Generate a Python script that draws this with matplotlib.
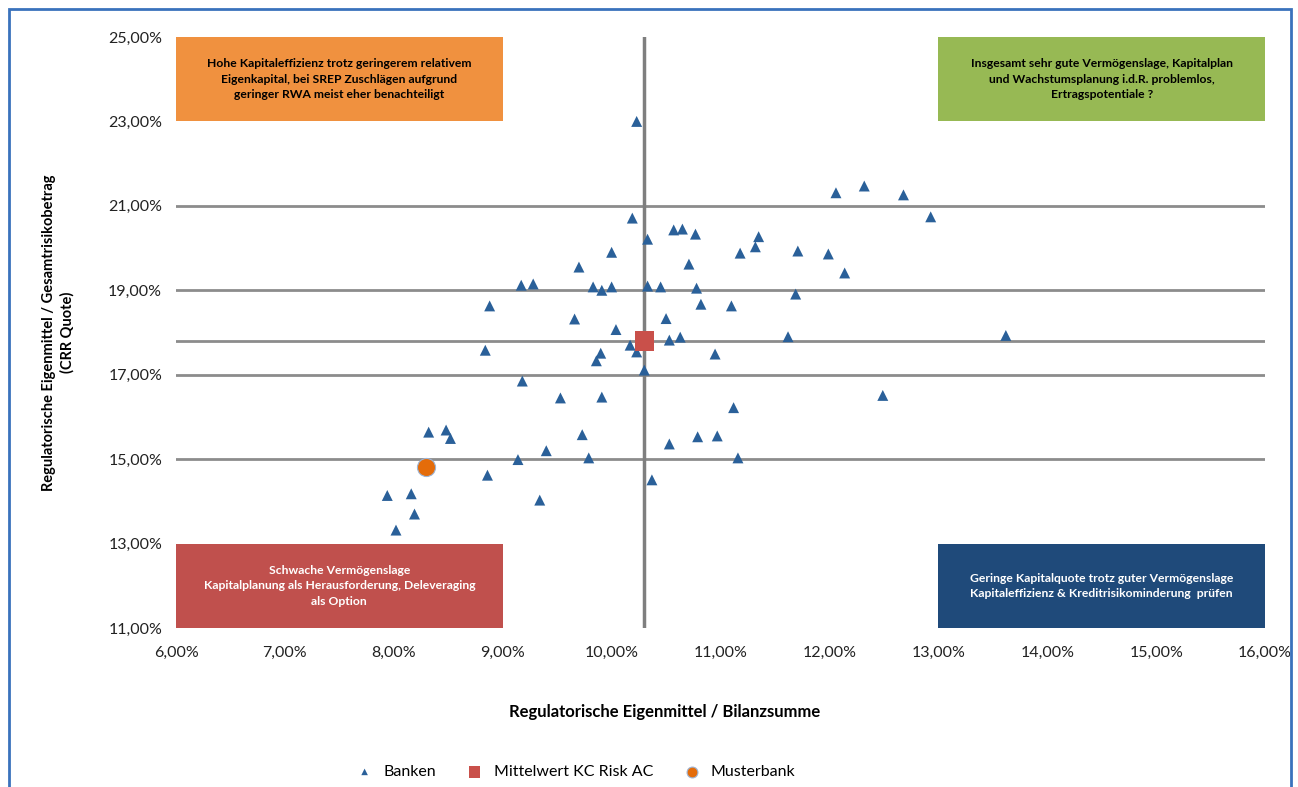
import matplotlib
matplotlib.use('Agg')
import matplotlib.pyplot as plt
from matplotlib.patches import Rectangle
from matplotlib.ticker import FuncFormatter

plt.rcParams['font.family'] = ['Lato', 'DejaVu Sans']

# Banken: Eigenmittel / Bilanzsumme (%) and CRR Quote (%)
banken_x = [10.23, 10.19, 10.33, 10.57, 10.65, 10.77, 10.00, 9.70, 9.17, 9.28,
            9.83, 9.91, 10.00, 10.33, 10.45, 10.71, 11.18, 11.32, 11.35, 11.71,
            11.99, 12.14, 12.06, 12.32, 12.68, 12.93, 10.78, 11.69, 8.88, 9.66,
            10.50, 10.04, 10.82, 11.10, 8.84, 10.17, 9.86, 9.90, 10.23, 10.53,
            10.63, 10.95, 11.62, 13.62, 10.30, 9.18, 9.53, 9.91, 11.12, 12.49,
            8.32, 8.48, 8.52, 9.73, 10.53, 10.79, 10.97, 9.14, 9.40, 9.79,
            11.16, 8.86, 10.37, 7.94, 8.16, 8.19, 8.02, 9.34]
banken_y = [23.00, 20.71, 20.21, 20.43, 20.45, 20.33, 19.90, 19.55, 19.12, 19.15,
            19.08, 19.00, 19.08, 19.10, 19.08, 19.62, 19.88, 20.03, 20.27, 19.93,
            19.86, 19.41, 21.31, 21.47, 21.26, 20.74, 19.05, 18.91, 18.63, 18.32,
            18.33, 18.07, 18.67, 18.63, 17.58, 17.70, 17.33, 17.51, 17.54, 17.82,
            17.89, 17.49, 17.90, 17.93, 17.11, 16.85, 16.45, 16.47, 16.22, 16.51,
            15.64, 15.69, 15.49, 15.58, 15.36, 15.53, 15.55, 14.99, 15.20, 15.03,
            15.03, 14.62, 14.51, 14.14, 14.18, 13.70, 13.32, 14.03]

mittelwert = (10.30, 17.80)
musterbank = (8.30, 14.81)

x_ticks = [6, 7, 8, 9, 10, 11, 12, 13, 14, 15, 16]
y_ticks = [11, 13, 15, 17, 19, 21, 23, 25]
h_lines = [15, 17, 19, 21]

# quadrant boxes: (x0, x1, y0, y1, colour, text colour, text)
quadranten = [
    (6, 9, 23, 25, '#F0913F', 'black',
     'Hohe Kapitaleffizienz trotz geringerem relativem\n'
     'Eigenkapital, bei SREP Zuschlägen aufgrund\n'
     'geringer RWA meist eher benachteiligt'),
    (13, 16, 23, 25, '#97B954', 'black',
     'Insgesamt sehr gute Vermögenslage, Kapitalplan\n'
     'und Wachstumsplanung i.d.R. problemlos,\n'
     'Ertragspotentiale ?'),
    (6, 9, 11, 13, '#C0504D', 'white',
     'Schwache Vermögenslage\n'
     'Kapitalplanung als Herausforderung, Deleveraging\n'
     'als Option'),
    (13, 16, 11, 13, '#1F4A7A', 'white',
     'Geringe Kapitalquote trotz guter Vermögenslage\n'
     'Kapitaleffizienz & Kreditrisikominderung  prüfen'),
]


def pct(v, pos):
    return f'{v:.2f}'.replace('.', ',') + '%'


fig = plt.figure(figsize=(12.98, 7.87), dpi=100)
ax = fig.add_axes([0.1356, 0.202, 0.8390, 0.751])

for y in h_lines:
    ax.axhline(y, color='#8C8C8C', lw=2, zorder=1)
ax.axhline(mittelwert[1], color='#8C8C8C', lw=2, zorder=1)
ax.axvline(mittelwert[0], color='#7F7F7F', lw=2.5, zorder=1)

for x0, x1, y0, y1, col, tcol, txt in quadranten:
    ax.add_patch(Rectangle((x0, y0), x1 - x0, y1 - y0, facecolor=col,
                           edgecolor='none', zorder=2))
    ax.text((x0 + x1) / 2, (y0 + y1) / 2, txt, color=tcol, fontsize=8.7,
            fontweight='bold', ha='center', va='center', linespacing=1.5,
            zorder=3)

ax.scatter(banken_x, banken_y, marker='^', s=62, color='#2A6099',
           edgecolors='none', zorder=4, label='Banken')
ax.scatter([mittelwert[0]], [mittelwert[1]], marker='s', s=190,
           color='#C9504A', edgecolors='none', zorder=5,
           label='Mittelwert KC Risk AC')
ax.scatter([musterbank[0]], [musterbank[1]], marker='o', s=170,
           color='#E46C0A', edgecolors='#9DB5D6', linewidths=0.8, zorder=5,
           label='Musterbank')

ax.set_xlim(6, 16)
ax.set_ylim(11, 25)
ax.set_xticks(x_ticks)
ax.set_yticks(y_ticks)
ax.xaxis.set_major_formatter(FuncFormatter(pct))
ax.yaxis.set_major_formatter(FuncFormatter(pct))
ax.tick_params(length=0, labelsize=11.5, colors='#222222', pad=13)
ax.tick_params(axis='y', pad=10)
for s in ax.spines.values():
    s.set_visible(False)

ax.set_ylabel('Regulatorische Eigenmittel / Gesamtrisikobetrag\n(CRR Quote)',
              fontsize=10.5, fontweight='bold', labelpad=24, linespacing=1.35)
fig.text(665 / 1298, 1 - 712 / 787, 'Regulatorische Eigenmittel / Bilanzsumme',
         fontsize=12, fontweight='bold', ha='center', va='center')

fig.legend(loc='center', bbox_to_anchor=(572 / 1298, 1 - 772 / 787), ncol=3,
           frameon=False, fontsize=11.5, columnspacing=1.4, handletextpad=0.2,
           markerscale=0.6)

# blue frame round the chart area
fig.add_artist(Rectangle((9 / 1298, -0.05), 1282 / 1298, 1.05 - 9 / 787,
                         transform=fig.transFigure, fill=False,
                         edgecolor='#3A72BC', lw=2))

fig.savefig('out.png', dpi=100)
